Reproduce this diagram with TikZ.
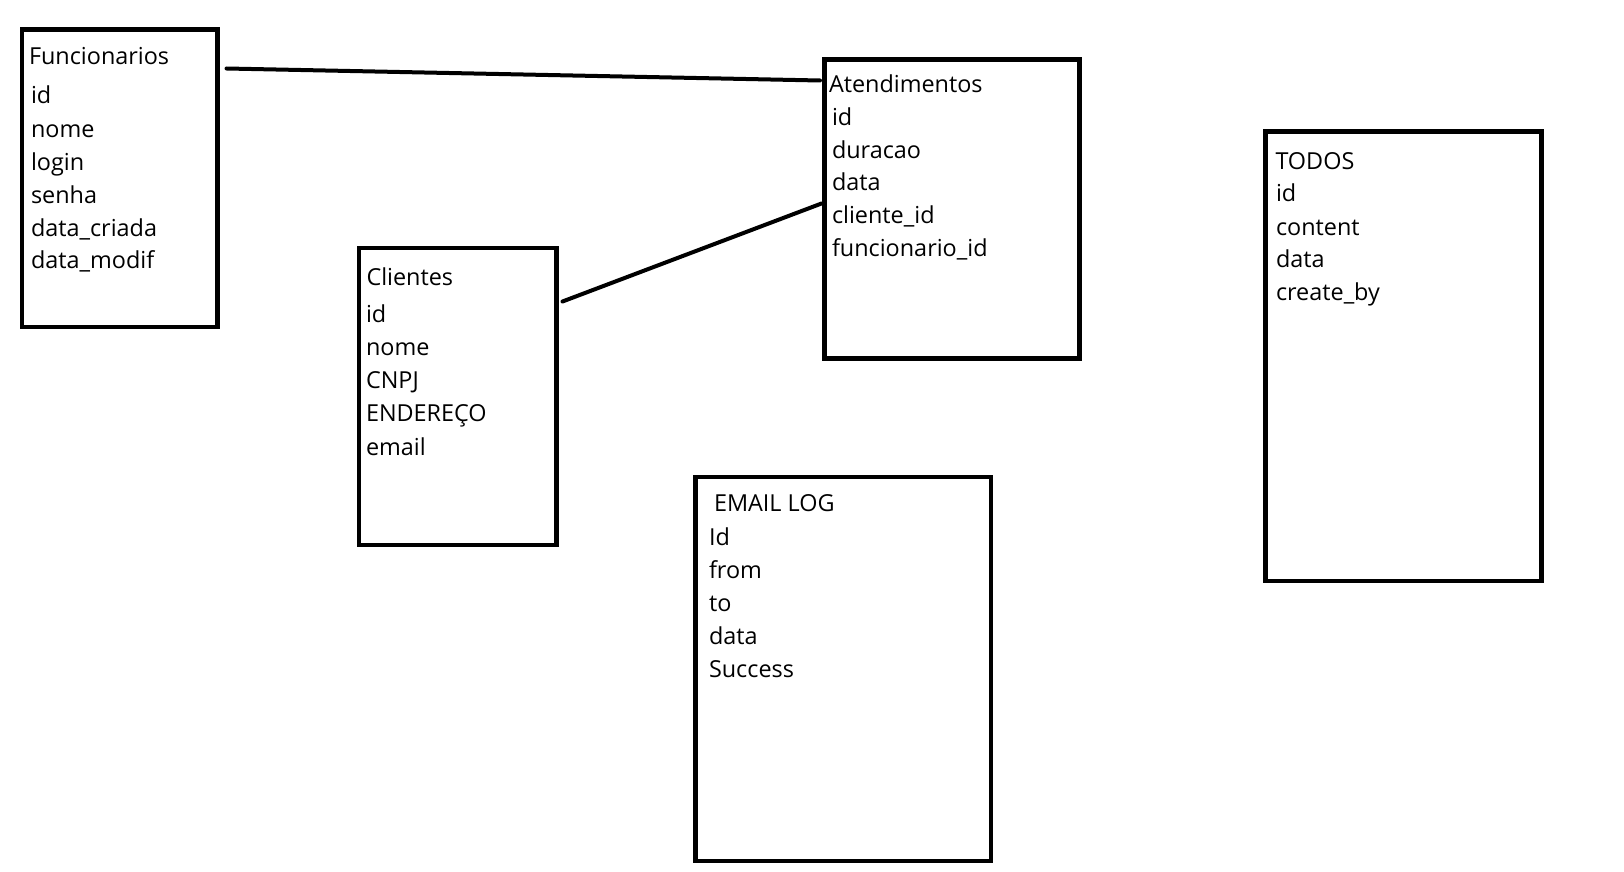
\documentclass[tikz,border=0pt]{standalone}
\usepackage{fontspec}
\setmainfont{Open Sans}
\usetikzlibrary{calc}
\tikzset{
  tbl/.style={draw=black, line width=4.5pt, inner sep=0pt, outer sep=0pt, fill=none},
  fld/.style={anchor=base west, inner sep=0pt, outer sep=0pt, font=\fontsize{23.4}{28}\selectfont},
  rel/.style={draw=black, line width=4pt, line cap=round}
}
\begin{document}
\begin{tikzpicture}[x=1pt,y=-1pt]
\useasboundingbox[fill=white] (0,0) rectangle (1624,872);
% tables
\node[tbl, minimum width=195.5pt, minimum height=297.5pt] (fun) at (119.75,178.25) {};
\node[tbl, minimum width=255pt, minimum height=299pt] (ate) at (952,209) {};
\node[tbl, minimum width=197.5pt, minimum height=297pt] (cli) at (457.75,396.5) {};
\node[tbl, minimum width=295.5pt, minimum height=384pt] (eml) at (843.25,669) {};
\node[tbl, minimum width=276pt, minimum height=449.5pt] (tod) at (1403.5,356.25) {};
% Funcionarios
\node[fld] (funT) at (29,65) {Funcionarios};
\node[fld] (fun1) at (31,104) {id};
\node[fld] (fun2) at (31,137) {nome};
\node[fld] (fun3) at (31,170) {login};
\node[fld] (fun4) at (31,203) {senha};
\node[fld] (fun5) at (31,236) {data\_criada};
\node[fld] (fun6) at (31,268) {data\_modif};
% Atendimentos
\node[fld] (ateT) at (829,92.5) {Atendimentos};
\node[fld] (ate1) at (832,125) {id};
\node[fld] (ate2) at (832,158) {duracao};
\node[fld] (ate3) at (832,190) {data};
\node[fld] (ate4) at (832,223) {cliente\_id};
\node[fld] (ate5) at (832,256) {funcionario\_id};
% Clientes
\node[fld] (cliT) at (366.5,285) {Clientes};
\node[fld] (cli1) at (366,322.5) {id};
\node[fld] (cli2) at (366,355.5) {nome};
\node[fld] (cli3) at (366,388) {CNPJ};
\node[fld] (cli4) at (366,421) {ENDEREÇO};
\node[fld] (cli5) at (366,455) {email};
% EMAIL LOG
\node[fld] (emlT) at (714,511) {EMAIL LOG};
\node[fld] (eml1) at (709,545) {Id};
\node[fld] (eml2) at (709,578) {from};
\node[fld] (eml3) at (709,611.5) {to};
\node[fld] (eml4) at (709,644) {data};
\node[fld] (eml5) at (709,677.5) {Success};
% TODOS
\node[fld] (todT) at (1275.5,169) {TODOS};
\node[fld] (tod1) at (1276,201.5) {id};
\node[fld] (tod2) at (1276,235) {content};
\node[fld] (tod3) at (1276,267) {data};
\node[fld] (tod4) at (1276,300.5) {create\_by};
% relations
\draw[rel] ($(fun.north east)+(9,39)$) -- ($(ate.north west)+(-4.5,21)$);
\draw[rel] ($(cli.north east)+(6,53.5)$) -- ($(ate.north west)+(-3,144)$);
\end{tikzpicture}
\end{document}
